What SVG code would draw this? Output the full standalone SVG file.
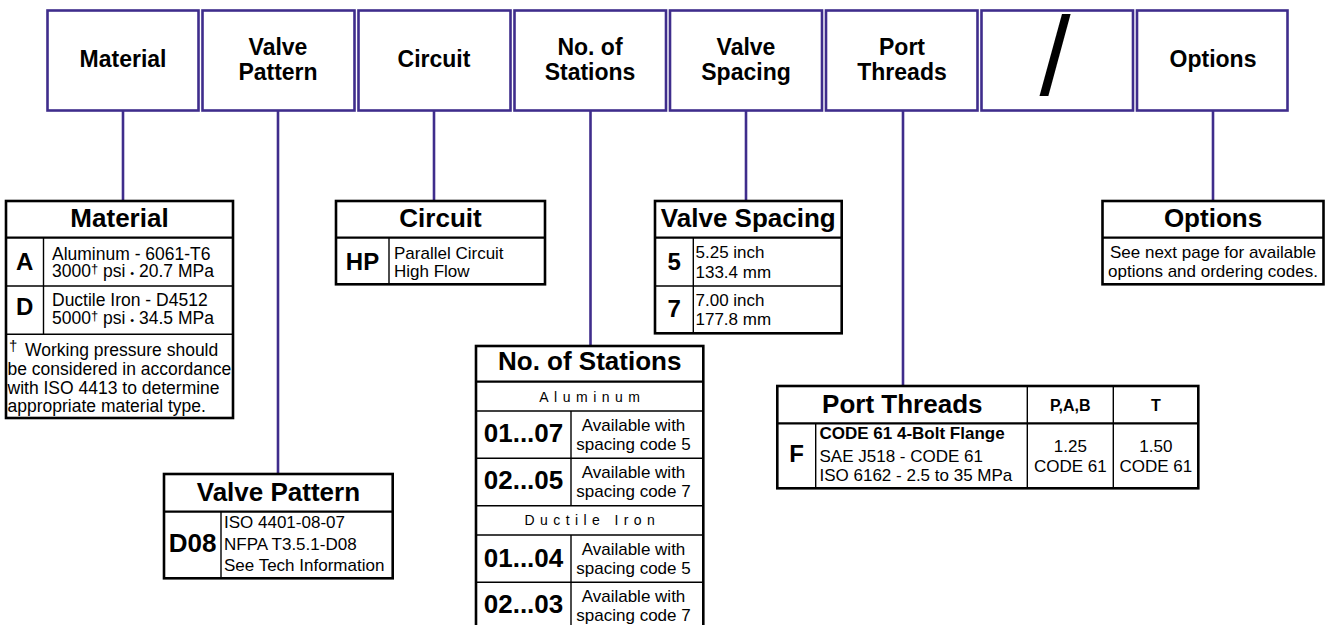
<svg xmlns="http://www.w3.org/2000/svg" width="1326" height="625" viewBox="0 0 1326 625">
<style>
text{font-family:"Liberation Sans",Arial,sans-serif;fill:#000}
.hb{fill:#fff;stroke:#3f2d8c;stroke-width:2.6}
.ht{font-size:23px;font-weight:bold;text-anchor:middle}
.con{stroke:#3f2d8c;stroke-width:2.6;fill:none}
.tb{fill:#fff;stroke:#000;stroke-width:2.6}
.tl{stroke:#000;stroke-width:2.2}
.ln{stroke:#000;stroke-width:1.4}
.ttl{font-size:26px;font-weight:bold;text-anchor:middle}
.code{font-size:24px;font-weight:bold;text-anchor:middle}
.bc{font-size:26px;font-weight:bold;text-anchor:middle}
.tx{font-size:17px}
.txm{font-size:17px;text-anchor:middle}
.sp{font-size:14px;text-anchor:middle}
</style>
<g id="header">
<g id="h-material"><rect class="hb" x="47.5" y="10.5" width="151" height="100"/><text class="ht" x="123" y="67">Material</text></g>
<g id="h-pattern"><rect class="hb" x="202.5" y="10.5" width="152" height="100"/><text class="ht" x="278" y="55">Valve</text><text class="ht" x="278" y="80">Pattern</text></g>
<g id="h-circuit"><rect class="hb" x="358.5" y="10.5" width="152" height="100"/><text class="ht" x="434" y="67">Circuit</text></g>
<g id="h-stations"><rect class="hb" x="514.5" y="10.5" width="151.5" height="100"/><text class="ht" x="590" y="55">No. of</text><text class="ht" x="590" y="80">Stations</text></g>
<g id="h-spacing"><rect class="hb" x="670" y="10.5" width="152" height="100"/><text class="ht" x="746" y="55">Valve</text><text class="ht" x="746" y="80">Spacing</text></g>
<g id="h-ports"><rect class="hb" x="826" y="10.5" width="151.5" height="100"/><text class="ht" x="902" y="55">Port</text><text class="ht" x="902" y="80">Threads</text></g>
<g id="h-slash"><rect class="hb" x="981.5" y="10.5" width="151.5" height="100"/><text x="1055" y="95" font-size="112" text-anchor="middle">/</text></g>
<g id="h-options"><rect class="hb" x="1137" y="10.5" width="150.5" height="100"/><text class="ht" x="1213" y="67">Options</text></g>
</g>
<g id="connectors">
<line class="con" x1="123" y1="111" x2="123" y2="201"/>
<line class="con" x1="278" y1="111" x2="278" y2="474"/>
<line class="con" x1="434" y1="111" x2="434" y2="201"/>
<line class="con" x1="590.5" y1="111" x2="590.5" y2="346"/>
<line class="con" x1="746" y1="111" x2="746" y2="201"/>
<line class="con" x1="903" y1="111" x2="903" y2="386"/>
<line class="con" x1="1213" y1="111" x2="1213" y2="201"/>
</g>
<g id="t-material">
<rect class="tb" x="6" y="201" width="227" height="217"/>
<line class="tl" x1="6" y1="237.7" x2="233" y2="237.7"/>
<line class="ln" x1="6" y1="286" x2="233" y2="286"/>
<line class="ln" x1="6" y1="334.3" x2="233" y2="334.3"/>
<line class="ln" x1="43.5" y1="237.7" x2="43.5" y2="334.3"/>
<text class="ttl" x="119.5" y="227">Material</text>
<text class="code" x="24.7" y="269.5">A</text>
<text class="code" x="24.7" y="315">D</text>
<text font-size="17.5" x="52" y="260">Aluminum - 6061-T6</text>
<text font-size="17.5" x="52" y="277">3000<tspan font-size="13" dy="-4">†</tspan><tspan dy="4"> psi </tspan><tspan font-size="11">•</tspan> 20.7 MPa</text>
<text font-size="17.5" x="52" y="305.5">Ductile Iron - D4512</text>
<text font-size="17.5" x="52" y="324">5000<tspan font-size="13" dy="-4">†</tspan><tspan dy="4"> psi </tspan><tspan font-size="11">•</tspan> 34.5 MPa</text>
<text font-size="17.5" x="9" y="351" ><tspan font-size="15">†</tspan><tspan x="25" y="355.5">Working pressure should</tspan></text>
<text font-size="17.5" x="7.5" y="375">be considered in accordance</text>
<text font-size="17.5" x="7.5" y="394">with ISO 4413 to determine</text>
<text font-size="17.5" x="7.5" y="412">appropriate material type.</text>
</g>
<g id="t-circuit">
<rect class="tb" x="336" y="201" width="209" height="83.3"/>
<line class="tl" x1="336" y1="237.7" x2="545" y2="237.7"/>
<line class="ln" x1="389" y1="237.7" x2="389" y2="284.3"/>
<text class="ttl" x="440.5" y="227">Circuit</text>
<text class="code" x="362.5" y="269.5">HP</text>
<text class="tx" x="394" y="258.5">Parallel Circuit</text>
<text class="tx" x="394" y="277">High Flow</text>
</g>
<g id="t-spacing">
<rect class="tb" x="655" y="201" width="186.7" height="132.3"/>
<line class="tl" x1="655" y1="237.7" x2="841.7" y2="237.7"/>
<line class="ln" x1="655" y1="286" x2="841.7" y2="286"/>
<line class="ln" x1="693.3" y1="237.7" x2="693.3" y2="333.3"/>
<text class="ttl" x="748.3" y="227">Valve Spacing</text>
<text class="code" x="674.2" y="269.5">5</text>
<text class="code" x="674.2" y="316.7">7</text>
<text class="tx" x="695.5" y="258.3">5.25 inch</text>
<text class="tx" x="695.5" y="277.7">133.4 mm</text>
<text class="tx" x="695.5" y="306">7.00 inch</text>
<text class="tx" x="695.5" y="325">177.8 mm</text>
</g>
<g id="t-options">
<rect class="tb" x="1102.5" y="201" width="221" height="83.3"/>
<line class="tl" x1="1102.5" y1="237.7" x2="1323.5" y2="237.7"/>
<text class="ttl" x="1213" y="227">Options</text>
<text class="txm" x="1213" y="258.3">See next page for available</text>
<text class="txm" x="1213" y="276.7">options and ordering codes.</text>
</g>
<g id="t-stations">
<rect class="tb" x="476" y="346" width="227.3" height="300"/>
<line class="tl" x1="476" y1="381.7" x2="703.3" y2="381.7"/>
<line class="ln" x1="476" y1="411" x2="703.3" y2="411"/>
<line class="ln" x1="476" y1="458.3" x2="703.3" y2="458.3"/>
<line class="ln" x1="476" y1="505.7" x2="703.3" y2="505.7"/>
<line class="ln" x1="476" y1="535" x2="703.3" y2="535"/>
<line class="ln" x1="476" y1="582.3" x2="703.3" y2="582.3"/>
<line class="ln" x1="571" y1="411" x2="571" y2="505.7"/>
<line class="ln" x1="571" y1="535" x2="571" y2="630"/>
<text class="ttl" x="589.7" y="370">No. of Stations</text>
<text class="sp" x="592.4" y="401.7" letter-spacing="5.5">Aluminum</text>
<text class="sp" x="592.4" y="525" letter-spacing="5.4">Ductile Iron</text>
<text class="bc" x="523.5" y="442">01...07</text>
<text class="bc" x="523.5" y="489.3">02...05</text>
<text class="bc" x="523.5" y="566.5">01...04</text>
<text class="bc" x="523.5" y="613.3">02...03</text>
<text class="txm" x="633.5" y="430.5">Available with</text>
<text class="txm" x="633.5" y="450">spacing code 5</text>
<text class="txm" x="633.5" y="477.8">Available with</text>
<text class="txm" x="633.5" y="497.3">spacing code 7</text>
<text class="txm" x="633.5" y="554.5">Available with</text>
<text class="txm" x="633.5" y="574">spacing code 5</text>
<text class="txm" x="633.5" y="601.8">Available with</text>
<text class="txm" x="633.5" y="621.3">spacing code 7</text>
</g>
<g id="t-pattern">
<rect class="tb" x="164" y="474" width="228.7" height="104.3"/>
<line class="tl" x1="164" y1="511.7" x2="392.7" y2="511.7"/>
<line class="ln" x1="221" y1="511.7" x2="221" y2="578.3"/>
<text class="ttl" x="278.4" y="500.7">Valve Pattern</text>
<text class="bc" x="192.5" y="552">D08</text>
<text class="tx" x="224" y="528.3">ISO 4401-08-07</text>
<text class="tx" x="224" y="550">NFPA T3.5.1-D08</text>
<text class="tx" x="224" y="570.7">See Tech Information</text>
</g>
<g id="t-ports">
<rect class="tb" x="777.3" y="386" width="421" height="102.3"/>
<line class="tl" x1="777.3" y1="423.3" x2="1198.3" y2="423.3"/>
<line class="ln" x1="1027.3" y1="386" x2="1027.3" y2="488.3"/>
<line class="ln" x1="1113.3" y1="386" x2="1113.3" y2="488.3"/>
<line class="ln" x1="815.7" y1="423.3" x2="815.7" y2="488.3"/>
<text class="ttl" x="902.3" y="413.3">Port Threads</text>
<text x="1070.3" y="410.7" font-size="16" font-weight="bold" text-anchor="middle">P,A,B</text>
<text x="1155.8" y="410.7" font-size="16" font-weight="bold" text-anchor="middle">T</text>
<text class="code" x="796.5" y="461.7">F</text>
<text class="tx" x="819.5" y="438.5" font-weight="bold">CODE 61 4-Bolt Flange</text>
<text class="tx" x="819.5" y="461.5">SAE J518 - CODE 61</text>
<text class="tx" x="819.5" y="481">ISO 6162 - 2.5 to 35 MPa</text>
<text class="txm" x="1070.3" y="451.7">1.25</text>
<text class="txm" x="1070.3" y="471.7">CODE 61</text>
<text class="txm" x="1155.8" y="451.7">1.50</text>
<text class="txm" x="1155.8" y="471.7">CODE 61</text>
</g>
</svg>
